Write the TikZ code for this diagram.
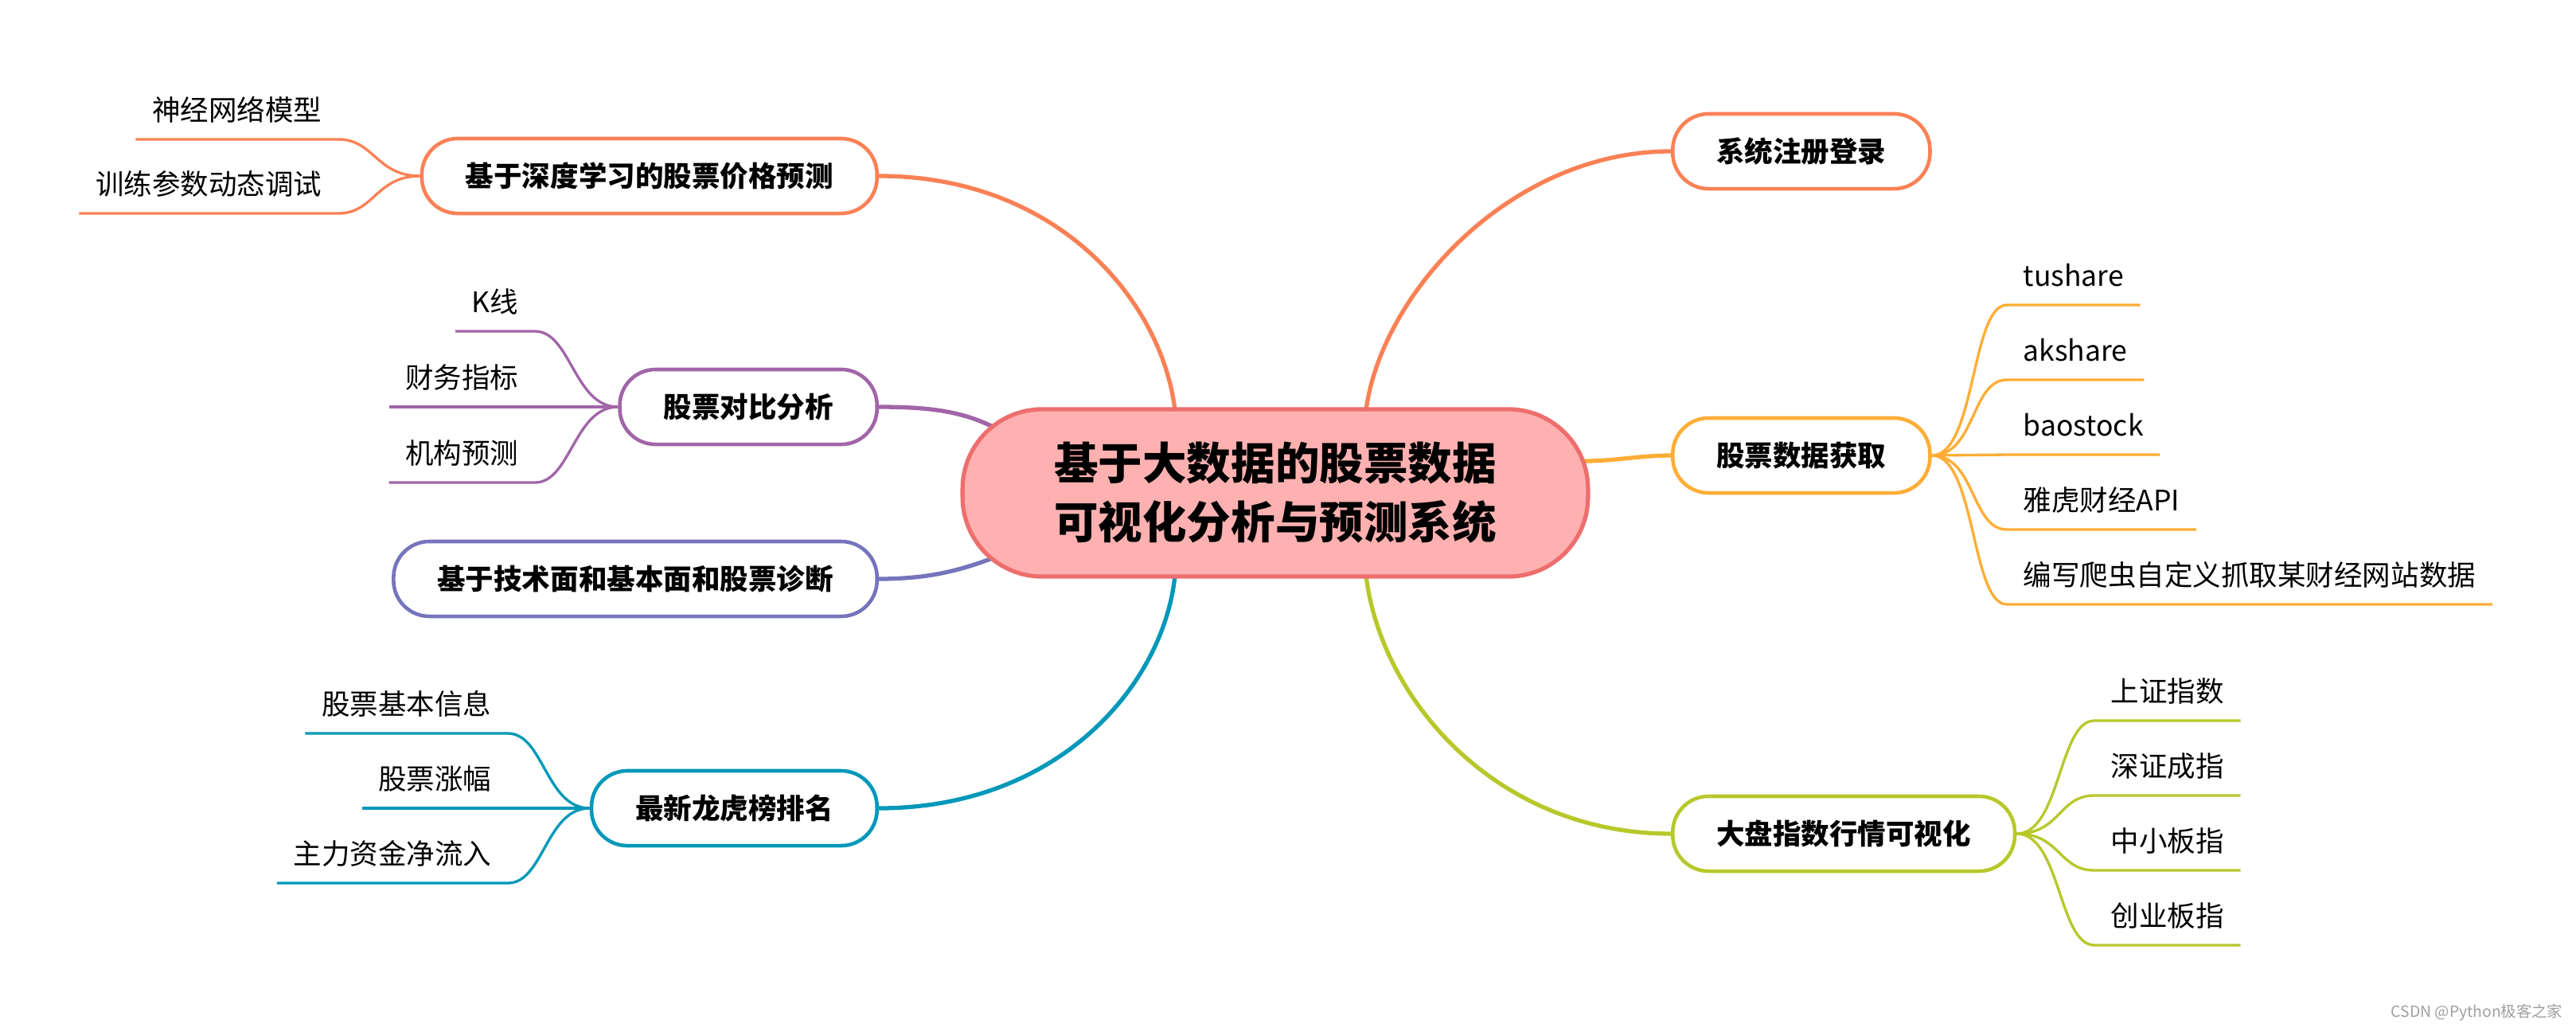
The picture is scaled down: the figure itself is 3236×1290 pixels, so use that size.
\documentclass[tikz,border=0pt]{standalone}
\usepackage{fontspec}
\setmainfont{Noto Sans CJK SC}
\usetikzlibrary{calc, backgrounds}
\definecolor{hubfill}{HTML}{FFB1B1}
\definecolor{hubline}{HTML}{EE6E6E}
\definecolor{orangeB}{HTML}{FA8155}
\definecolor{amberB}{HTML}{FFAD36}
\definecolor{limeB}{HTML}{B7C82B}
\definecolor{tealB}{HTML}{0098B9}
\definecolor{indigoB}{HTML}{7574BC}
\definecolor{purpleB}{HTML}{A165A8}

\begin{document}
\begin{tikzpicture}[x=0.01cm, y=-0.01cm,
    root/.style={draw=hubline, fill=hubfill, line width=1.5pt, rounded corners=1.0cm,
                 minimum height=2.1cm, inner xsep=1.15cm, align=center,
                 font=\bfseries\fontsize{15.8}{21}\selectfont},
    branch/.style={draw=#1, fill=white, line width=1.3pt, rounded corners=0.45cm,
                   minimum height=0.94cm, inner xsep=0.55cm,
                   font=\bfseries\fontsize{10.1}{12}\selectfont},
    leafL/.style={anchor=south east, inner xsep=0.2cm, inner ysep=0pt, text depth=0.23cm,
                  font=\fontsize{10.1}{12}\selectfont},
    leafR/.style={leafL, anchor=south west},
    trunk/.style={draw=#1, line width=1.5pt},
    twig/.style={draw=#1, line width=0.95pt}
]
\useasboundingbox (0,0) rectangle (3236,1290);

\node[root] (hub) at (1602,619) {基于大数据的股票数据\\可视化分析与预测系统};

% main branches, left side aligned on their right edge
\node[branch=orangeB, anchor=east] (deep) at (1104,221) {基于深度学习的股票价格预测};
\node[branch=purpleB, anchor=east] (compare) at (1104,511) {股票对比分析};
\node[branch=indigoB, anchor=east] (diag) at (1104,727) {基于技术面和基本面和股票诊断};
\node[branch=tealB, anchor=east] (rank) at (1104,1015) {最新龙虎榜排名};
% right side aligned on their left edge
\node[branch=orangeB, anchor=west] (login) at (2099,190) {系统注册登录};
\node[branch=amberB, anchor=west] (fetch) at (2099,572) {股票数据获取};
\node[branch=limeB, anchor=west] (index) at (2099,1047) {大盘指数行情可视化};

% leaves
\node[leafL] (nn) at (425,175) {神经网络模型};
\node[leafL] (tune) at (425,268) {训练参数动态调试};
\node[leafL] (kline) at (672,416) {K线};
\node[leafL] (fin) at (672,511) {财务指标};
\node[leafL] (inst) at (672,606) {机构预测};
\node[leafL] (info) at (638,921) {股票基本信息};
\node[leafL] (rise) at (638,1015) {股票涨幅};
\node[leafL] (flow) at (638,1109) {主力资金净流入};
\node[leafR] (tus) at (2521,383) {tushare};
\node[leafR] (aks) at (2521,477) {akshare};
\node[leafR] (bao) at (2521,571) {baostock};
\node[leafR] (yahoo) at (2521,665) {雅虎财经API};
\node[leafR] (crawl) at (2521,759) {编写爬虫自定义抓取某财经网站数据};
\node[leafR] (sh) at (2631,905) {上证指数};
\node[leafR] (sz) at (2631,999) {深证成指};
\node[leafR] (sme) at (2631,1093) {中小板指};
\node[leafR] (gem) at (2631,1187) {创业板指};

\node[anchor=base east, inner sep=0pt, text=gray!75, font=\fontsize{5.5}{6}\selectfont] (mark) at (3220,1277) {CSDN @Python极客之家};

\begin{pgfonlayer}{background}
% trunks from the central topic
\draw[trunk=orangeB] (deep.east) .. controls +(226,0) and +(-16,-136) .. ($(hub.north)+(-126,4)$);
\draw[trunk=purpleB] (compare.east) .. controls +(66,0) and +(-40,-20) .. ($(hub.west)+(43,-82)$);
\draw[trunk=indigoB] (diag.east) .. controls +(66,0) and +(-40,15) .. ($(hub.west)+(43,81)$);
\draw[trunk=tealB] (rank.east) .. controls +(226,0) and +(-14,137) .. ($(hub.south)+(-126,-4)$);
\draw[trunk=orangeB] ($(hub.north)+(114,4)$) .. controls +(19,-146) and +(-202,0) .. (login.west);
\draw[trunk=amberB] ($(hub.east)+(-8,-40)$) .. controls +(40,0) and +(-40,0) .. (fetch.west);
\draw[trunk=limeB] ($(hub.south)+(114,-4)$) .. controls +(19,157) and +(-218,0) .. (index.west);

% twigs to the leaves, each ending in the leaf underline
\draw[twig=orangeB] (deep.west) .. controls +(-55,0) and +(45,0) .. (nn.south east) -- (nn.south west);
\draw[twig=orangeB] (deep.west) .. controls +(-55,0) and +(45,0) .. (tune.south east) -- (tune.south west);
\draw[twig=purpleB] (compare.west) .. controls +(-55,0) and +(45,0) .. (kline.south east) -- (kline.south west);
\draw[twig=purpleB] (compare.west) -- (fin.south east) -- (fin.south west);
\draw[twig=purpleB] (compare.west) .. controls +(-55,0) and +(45,0) .. (inst.south east) -- (inst.south west);
\draw[twig=tealB] (rank.west) .. controls +(-55,0) and +(45,0) .. (info.south east) -- (info.south west);
\draw[twig=tealB] (rank.west) -- (rise.south east) -- (rise.south west);
\draw[twig=tealB] (rank.west) .. controls +(-55,0) and +(45,0) .. (flow.south east) -- (flow.south west);
\draw[twig=amberB] (fetch.east) .. controls +(55,0) and +(-45,0) .. (tus.south west) -- (tus.south east);
\draw[twig=amberB] (fetch.east) .. controls +(55,0) and +(-45,0) .. (aks.south west) -- (aks.south east);
\draw[twig=amberB] (fetch.east) -- (bao.south west) -- (bao.south east);
\draw[twig=amberB] (fetch.east) .. controls +(55,0) and +(-45,0) .. (yahoo.south west) -- (yahoo.south east);
\draw[twig=amberB] (fetch.east) .. controls +(55,0) and +(-45,0) .. (crawl.south west) -- (crawl.south east);
\draw[twig=limeB] (index.east) .. controls +(55,0) and +(-45,0) .. (sh.south west) -- (sh.south east);
\draw[twig=limeB] (index.east) .. controls +(55,0) and +(-45,0) .. (sz.south west) -- (sz.south east);
\draw[twig=limeB] (index.east) .. controls +(55,0) and +(-45,0) .. (sme.south west) -- (sme.south east);
\draw[twig=limeB] (index.east) .. controls +(55,0) and +(-45,0) .. (gem.south west) -- (gem.south east);
\end{pgfonlayer}

\end{tikzpicture}
\end{document}
